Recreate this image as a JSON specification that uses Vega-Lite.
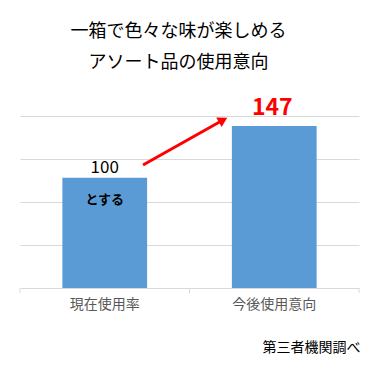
{
  "$schema": "https://vega.github.io/schema/vega-lite/v6.json",
  "width": 339,
  "height": 172,
  "autosize": {"type": "none"},
  "padding": {"left": 20, "top": 116, "right": 25, "bottom": 96},
  "background": "white",
  "config": {
    "view": {"stroke": null},
    "font": "Noto Sans CJK JP"
  },
  "title": {
    "text": ["一箱で色々な味が楽しめる", "アソート品の使用意向"],
    "fontSize": 18,
    "fontWeight": "normal",
    "color": "#000000",
    "lineHeight": 31,
    "anchor": "middle",
    "dx": -11,
    "offset": 25
  },
  "datasets": {
    "bars": [
      {"cat": "現在使用率", "v": 100, "note": "とする"},
      {"cat": "今後使用意向", "v": 147, "note": ""}
    ],
    "arrow": [
      {"ax": 0.7257, "ay": 111.6, "bx": 1.198, "by": 152.4}
    ],
    "ticks": [
      {"tx": 0, "ty": 0, "ty2": -4.5},
      {"tx": 1, "ty": 0, "ty2": -4.5},
      {"tx": 2, "ty": 0, "ty2": -4.5}
    ]
  },
  "layer": [
    {
      "data": {"name": "bars"},
      "encoding": {
        "x": {
          "field": "cat",
          "type": "nominal",
          "sort": null,
          "scale": {"paddingInner": 0.5, "paddingOuter": 0.25},
          "axis": {
            "title": "第三者機関調べ",
            "titleFontSize": 14,
            "titleFontWeight": "normal",
            "titleColor": "#000000",
            "titleAlign": "right",
            "titleAnchor": "end",
            "titleBaseline": "middle",
            "titleX": 340,
            "titleY": 59,
            "labelAngle": 0,
            "labelFontSize": 14,
            "labelColor": "#595959",
            "labelPadding": 9,
            "ticks": false,
            "domain": true,
            "domainColor": "#d9d9d9",
            "domainWidth": 1
          }
        },
        "y": {
          "field": "v",
          "type": "quantitative",
          "scale": {"domain": [0, 156], "nice": false},
          "axis": {
            "title": null,
            "values": [39, 78, 117, 156],
            "grid": true,
            "gridColor": "#d9d9d9",
            "gridWidth": 1,
            "domain": false,
            "ticks": false,
            "labels": false
          }
        }
      },
      "layer": [
        {"mark": {"type": "bar", "color": "#5b9bd5"}},
        {
          "transform": [{"filter": "datum.v == 100"}],
          "mark": {"type": "text", "fontSize": 17, "color": "#000000", "baseline": "middle", "dy": -10},
          "encoding": {"text": {"field": "v", "type": "quantitative"}}
        },
        {
          "transform": [{"filter": "datum.v == 100"}],
          "mark": {"type": "text", "fontSize": 13, "fontWeight": "bold", "color": "#000000", "baseline": "middle", "dy": 22},
          "encoding": {"text": {"field": "note", "type": "nominal"}}
        },
        {
          "transform": [{"filter": "datum.v == 147"}],
          "mark": {"type": "text", "fontSize": 23, "fontWeight": "bold", "color": "#ff0000", "baseline": "middle", "dy": -18, "dx": -2},
          "encoding": {"text": {"field": "v", "type": "quantitative"}}
        }
      ]
    },
    {
      "data": {"name": "arrow"},
      "layer": [
        {
          "mark": {"type": "rule", "color": "#ff0000", "strokeWidth": 3},
          "encoding": {
            "x": {"field": "ax", "type": "quantitative", "scale": {"domain": [0, 2], "nice": false, "zero": false}, "axis": null},
            "x2": {"field": "bx"},
            "y": {"field": "ay", "type": "quantitative", "axis": null},
            "y2": {"field": "by"}
          }
        },
        {
          "mark": {"type": "point", "shape": "triangle-right", "angle": -29.5, "size": 120, "filled": true, "color": "#ff0000", "opacity": 1},
          "encoding": {
            "x": {"field": "bx", "type": "quantitative", "scale": {"domain": [0, 2], "nice": false, "zero": false}, "axis": null},
            "y": {"field": "by", "type": "quantitative", "axis": null}
          }
        }
      ]
    },
    {
      "data": {"name": "ticks"},
      "mark": {"type": "rule", "color": "#d9d9d9", "strokeWidth": 1},
      "encoding": {
        "x": {"field": "tx", "type": "quantitative", "scale": {"domain": [0, 2], "nice": false, "zero": false}, "axis": null},
        "y": {"field": "ty", "type": "quantitative", "axis": null},
        "y2": {"field": "ty2"}
      }
    }
  ],
  "resolve": {"scale": {"x": "independent"}, "axis": {"x": "independent", "y": "independent"}}
}
